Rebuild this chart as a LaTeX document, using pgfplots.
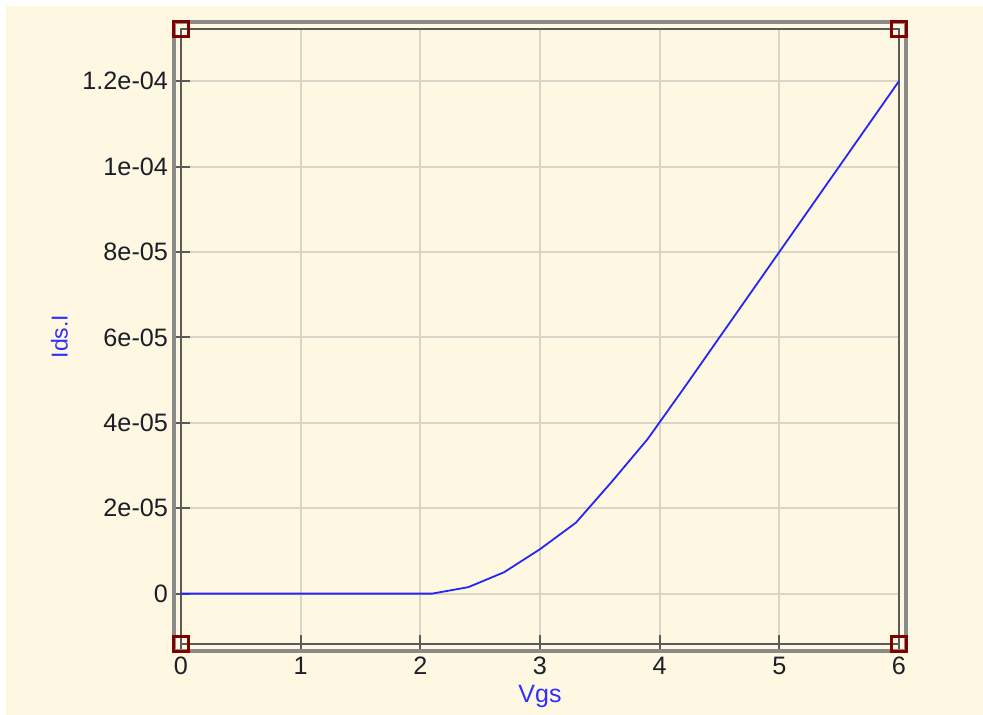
\documentclass[border=0pt]{standalone}
\usepackage{pgfplots}
\pgfplotsset{compat=1.18}
\usepackage{fontspec}
\setmainfont{Liberation Sans}
\definecolor{cream}{HTML}{FEF8E2}
\definecolor{gridc}{HTML}{D9D5C8}
\definecolor{framein}{HTML}{5A5A5A}
\definecolor{frameout}{HTML}{8A8A8A}
\definecolor{cornerred}{HTML}{800000}
\definecolor{curveblue}{HTML}{2525F5}
\definecolor{labelblue}{HTML}{2F2FFF}
\definecolor{tickc}{HTML}{1E1E28}
\pgfplotstableread{
x y
0.0 0
0.3 0
0.6 0
0.9 0
1.2 0
1.5 0
1.8 0
2.1 0
2.4 1.5e-6
2.7 5.0e-6
3.0 1.04e-5
3.3 1.66e-5
3.6 2.62e-5
3.9 3.62e-5
4.2 4.8e-5
4.5 6.0e-5
4.8 7.2e-5
5.1 8.4e-5
5.4 9.6e-5
5.7 1.08e-4
6.0 1.2e-4
}\ids
\pgfplotstableread{
x y
0 -1.18e-5
6 -1.18e-5
0 1.322e-4
6 1.322e-4
}\corners
\begin{document}
\begin{tikzpicture}
\fill[white] (-90.5pt,-35.5pt) rectangle (401pt,322pt);
\fill[cream] (-87.5pt,-35.5pt) rectangle (401pt,319pt);
\begin{axis}[
  scale only axis,
  width=359pt, height=307.5pt,
  xmin=0, xmax=6,
  ymin=-1.18e-5, ymax=1.322e-4,
  clip=false,
  axis line style={framein, line width=1.4pt},
  grid=major,
  major grid style={gridc, line width=1pt},
  xtick={0,1,2,3,4,5,6},
  ytick={0,2e-5,4e-5,6e-5,8e-5,1e-4,1.2e-4},
  yticklabels={0,2e-05,4e-05,6e-05,8e-05,1e-04,1.2e-04},
  scaled y ticks=false,
  tick align=center,
  major tick length=9pt,
  tick style={framein, line width=1pt},
  xtick pos=bottom, ytick pos=left,
  /pgf/number format/assume math mode=true,
  tick label style={font=\fontsize{12.6}{14}\selectfont, text=tickc},
  xticklabel style={yshift=1.5pt},
  yticklabel style={xshift=1.5pt},
  xlabel={Vgs},
  ylabel={Ids.I},
  xlabel style={font=\fontsize{12.5}{15}\selectfont, text=labelblue, at={(rel axis cs:0.5,0)}, yshift=-17pt},
  ylabel style={font=\fontsize{11.5}{14}\selectfont, text=labelblue, at={(rel axis cs:0,0.5)}, yshift=53pt},
]
\addplot[curveblue, line width=0.9pt] table[x=x,y=y] {\ids};
\draw[frameout, line width=2.2pt] ([xshift=-3.4pt,yshift=-3.4pt]rel axis cs:0,0) rectangle ([xshift=3.4pt,yshift=3.4pt]rel axis cs:1,1);
\addplot[only marks, mark=square, mark size=3.8pt, mark options={draw=cornerred, line width=1.3pt}] table[x=x,y=y] {\corners};
\end{axis}
\end{tikzpicture}
\end{document}
